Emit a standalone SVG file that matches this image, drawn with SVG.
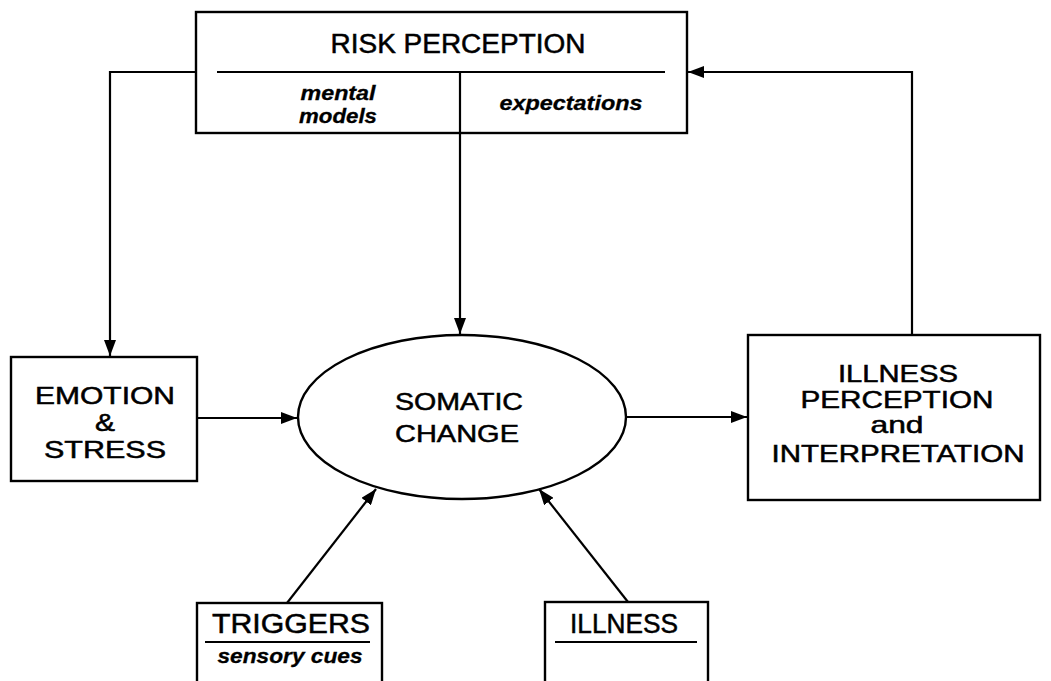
<svg xmlns="http://www.w3.org/2000/svg" width="1051" height="681" viewBox="0 0 1051 681">
<style>
.box{fill:none;stroke:#000;stroke-width:2.4}
.ln{fill:none;stroke:#000;stroke-width:2.2}
.t{font-family:"Liberation Sans",Arial,sans-serif;fill:#000;text-anchor:middle;stroke:#000;stroke-width:0.5}
.big{font-size:27px}
.mid{font-size:24px}
.it{font-weight:bold;font-style:italic;font-size:21px;stroke-width:0.3}
</style>
<defs>
<marker id="ah" viewBox="0 0 16 12" refX="16" refY="6" markerWidth="16" markerHeight="12" markerUnits="userSpaceOnUse" orient="auto">
<path d="M0,0 L16,6 L0,12 Z" fill="#000"/>
</marker>
</defs>
<rect width="1051" height="681" fill="#fff"/>
<g id="connectors">
<path class="ln" d="M196,72 H110 V356" marker-end="url(#ah)"/>
<path class="ln" d="M460,72 V334" marker-end="url(#ah)"/>
<path class="ln" d="M197,418 H297" marker-end="url(#ah)"/>
<path class="ln" d="M627,417 H747" marker-end="url(#ah)"/>
<path class="ln" d="M912,335 V72 H688" marker-end="url(#ah)"/>
<path class="ln" d="M287,603 L376,489" marker-end="url(#ah)"/>
<path class="ln" d="M628,602 L539,489" marker-end="url(#ah)"/>
</g>
<g id="risk">
<rect class="box" x="196" y="12" width="491" height="121"/>
<line class="ln" x1="217" y1="72" x2="665" y2="72"/>
<text class="t big" x="458" y="53" textLength="255" lengthAdjust="spacingAndGlyphs">RISK PERCEPTION</text>
<text class="t it" x="338" y="100" textLength="75" lengthAdjust="spacingAndGlyphs">mental</text>
<text class="t it" x="338" y="123" textLength="78" lengthAdjust="spacingAndGlyphs">models</text>
<text class="t it" x="571" y="110" textLength="143" lengthAdjust="spacingAndGlyphs">expectations</text>
</g>
<g id="emotion">
<rect class="box" x="11" y="357" width="186" height="124"/>
<text class="t mid" x="105" y="404" textLength="140" lengthAdjust="spacingAndGlyphs">EMOTION</text>
<text class="t mid" x="105" y="431" textLength="20" lengthAdjust="spacingAndGlyphs">&amp;</text>
<text class="t mid" x="105" y="458" textLength="122" lengthAdjust="spacingAndGlyphs">STRESS</text>
</g>
<g id="somatic">
<ellipse class="box" cx="462" cy="417" rx="164" ry="82"/>
<text class="t mid" x="459" y="410" textLength="128" lengthAdjust="spacingAndGlyphs">SOMATIC</text>
<text class="t mid" x="457" y="442" textLength="124" lengthAdjust="spacingAndGlyphs">CHANGE</text>
</g>
<g id="illness-perception">
<rect class="box" x="748" y="335" width="292" height="165"/>
<text class="t mid" x="898" y="382" textLength="120" lengthAdjust="spacingAndGlyphs">ILLNESS</text>
<text class="t mid" x="897" y="408" textLength="193" lengthAdjust="spacingAndGlyphs">PERCEPTION</text>
<text class="t mid" x="897" y="433" textLength="53" lengthAdjust="spacingAndGlyphs">and</text>
<text class="t mid" x="898" y="462" textLength="253" lengthAdjust="spacingAndGlyphs">INTERPRETATION</text>
</g>
<g id="triggers">
<rect class="box" x="197" y="603" width="185" height="90"/>
<line class="ln" x1="205" y1="642" x2="370" y2="642"/>
<text class="t big" x="291" y="633" textLength="158" lengthAdjust="spacingAndGlyphs">TRIGGERS</text>
<text class="t it" x="290" y="663" textLength="145" lengthAdjust="spacingAndGlyphs">sensory cues</text>
</g>
<g id="illness">
<rect class="box" x="545" y="602" width="163" height="90"/>
<line class="ln" x1="555" y1="642" x2="697" y2="642"/>
<text class="t big" x="624" y="633" textLength="108" lengthAdjust="spacingAndGlyphs">ILLNESS</text>
</g>
</svg>
